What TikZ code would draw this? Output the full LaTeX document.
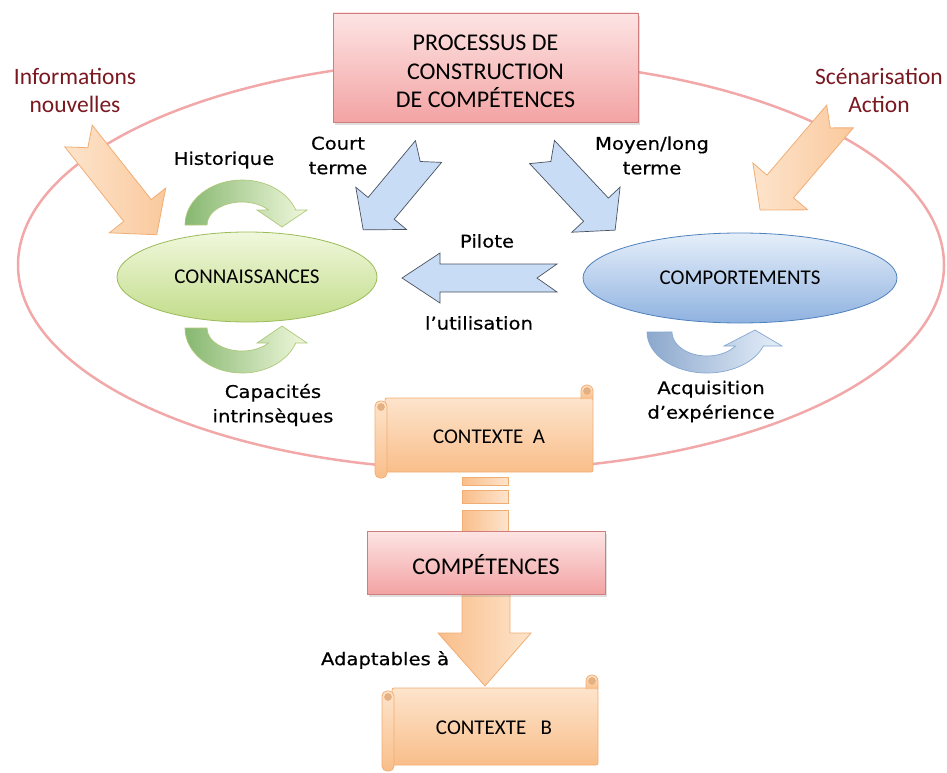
\documentclass[tikz,border=0pt]{standalone}
\usepackage{fontspec}
\setmainfont{Carlito}
\newfontfamily\comic[FakeStretch=1.12,FakeBold=0.5]{DejaVu Sans}
\usetikzlibrary{shapes.geometric,shadows,calc}
\definecolor{darkred}{RGB}{122,24,32}
\definecolor{ellline}{HTML}{F2A8A8}
\definecolor{pinkT}{HTML}{FDE4E4}
\definecolor{pinkB}{HTML}{F3A3A3}
\definecolor{pinkD}{HTML}{CF7D7D}
\definecolor{grT}{HTML}{F0F8DC}
\definecolor{grB}{HTML}{C2DC8A}
\definecolor{grD}{HTML}{9BBB59}
\definecolor{blT}{HTML}{E6EFFA}
\definecolor{blB}{HTML}{8FB2E0}
\definecolor{blD}{HTML}{4F81BD}
\definecolor{orT}{HTML}{FDE4CC}
\definecolor{orB}{HTML}{F9BE8A}
\definecolor{orM}{HTML}{FAC99D}
\definecolor{orD}{HTML}{F2AD72}
\definecolor{arrBl}{HTML}{C9DCF5}
\definecolor{arrBd}{HTML}{4A5260}
\tikzset{
  pics/notched/.style n args={6}{code={
    \path[#6] (0,-#2) -- ({#1-#4},-#2) -- ({#1-#4},-#3) -- (#1,0) -- ({#1-#4},#3) -- ({#1-#4},#2) -- (0,#2) -- (#5,0) -- cycle;
  }},
  pics/scrollshape/.style 2 args={code={
    \path[scrollfill, rounded corners=2] (0,0) rectangle (#1,#2);
    \path[scrollfill] (#1-12,1) -- (#1-12,-7) arc[start angle=180,end angle=360,radius=6] -- (#1,1);
    \path[scrollcurl] (#1-6,-7) circle[radius=3.5];
    \path[scrollfill, rounded corners=5] (-10,3) rectangle (2,#2+6);
    \path[scrollcurl] (-4,9) circle[radius=3.5];
  }},
}
\begin{document}
\begin{tikzpicture}[x=1pt,y=-1pt,
  bigell/.style={draw=ellline, line width=2.5pt},
  pinkbox/.style={rectangle, draw=pinkD, line width=0.8pt, top color=pinkT, bottom color=pinkB,
    drop shadow={shadow xshift=2pt, shadow yshift=-3pt, opacity=0.25}},
  greenell/.style={ellipse, draw=grD, line width=0.8pt, top color=grT, bottom color=grB, inner sep=0pt},
  blueell/.style={ellipse, draw=blD, line width=0.8pt, top color=blT, bottom color=blB, inner sep=0pt},
  nodetxt/.style={font=\fontsize{21}{25}\selectfont, text=black},
  bigtxt/.style={font=\fontsize{24}{28.5}\selectfont, text=black, align=center},
  lbl/.style={font=\comic\fontsize{17.5}{24.5}\selectfont, text=black, align=center, inner sep=0pt},
  redlbl/.style={font=\fontsize{23.5}{28}\selectfont, text=darkred, align=center, inner sep=0pt},
  bluearr/.style={draw=arrBd, line width=0.7pt, fill=arrBl},
  orangearr/.style={draw=orD, line width=0.8pt, left color=orT, right color=orM},
  greenarc/.style={draw=grD!80!white, line width=0.7pt, left color=green!25!gray!60!grB, right color=grT},
  bluearc/.style={draw=blD!70!white, line width=0.7pt, left color=blB!80!gray, right color=blT},
  scrollfill/.style={draw=orD, line width=0.8pt, top color=orT, bottom color=orB},
  scrollcurl/.style={draw=orD, line width=0.6pt, fill=orB!80!gray},
  pillar/.style={draw=orD, line width=0.8pt, left color=orB, right color=orT},
]
\useasboundingbox (0,0) rectangle (947,773);

% big ellipse
\draw[bigell] (481,265) ellipse [x radius=463, y radius=205];

% top box
\node[pinkbox, minimum width=305pt, minimum height=109pt] (proc) at (485.5,67.5) {};
\node[bigtxt] (proctxt) at (485.5,71.5) {PROCESSUS DE\\CONSTRUCTION\\DE COMPÉTENCES};

% outside labels
\node[redlbl] (info) at (75,90) {Informations\\nouvelles};
\node[redlbl] (scen) at (879,90) {Scénarisation\\Action};

% orange arrows
\pic (infoarr) [rotate=-51.6] at (78.5,136) {notched={126}{17.5}{36}{31}{15}{orangearr}};
\pic (scenarr) [rotate=-130.5] at (840,116.5) {notched={123}{17.5}{36}{31}{15}{orangearr}};

% blue arrows
\pic (courtarr) [rotate=-129.8] at (428.5,151.5) {notched={102}{17}{33}{28}{13}{bluearr}};
\pic (moyenarr) [rotate=-46.9] at (542,152) {notched={107}{17}{33}{28}{13}{bluearr}};
\pic (pilotarr) [rotate=180] at (557,278) {notched={155}{14}{25}{38}{20}{bluearr}};

\node[lbl] (court) at (338,155.5) {Court\\terme};
\node[lbl] (moyen) at (652,155.5) {Moyen/long\\terme};
\node[lbl] (pilote) at (487,241) {Pilote};
\node[lbl] (util) at (479,323) {l’utilisation};

% ellipses
\node[greenell, minimum width=260pt, minimum height=90pt] (conn) at (247,277) {};
\node[nodetxt] (conntxt) at (conn.center) {CONNAISSANCES};
\node[blueell, minimum width=314pt, minimum height=90pt] (comport) at (740,278) {};
\node[nodetxt] (comporttxt) at (comport.center) {COMPORTEMENTS};

% green curved arrows
\path[greenarc] (185,225) arc[start angle=180, end angle=340.5, x radius=57, y radius=45]
  -- (307,210) -- (282,227) -- (257,210) -- (268.5,210)
  arc[start angle=319.3, end angle=180, x radius=35, y radius=23] -- cycle;
\path[greenarc] (185,328) arc[start angle=180, end angle=19.5, x radius=57, y radius=45]
  -- (307,343) -- (282,326) -- (257,343) -- (268.5,343)
  arc[start angle=40.7, end angle=180, x radius=35, y radius=23] -- cycle;
% blue curved arrow
\path[bluearc] (647,332) arc[start angle=180, end angle=20, x radius=60, y radius=41]
  -- (782,346) -- (755,330) -- (724,346) -- (735.4,346)
  arc[start angle=35.7, end angle=180, x radius=35, y radius=24] -- cycle;

\node[lbl] (hist) at (224,160) {Historique};
\node[lbl] (capa) at (273,405) {Capacités\\intrinsèques};
\node[lbl] (acq) at (711,401.5) {Acquisition\\d’expérience};

% pillar blocks
\path[pillar] (462,477) rectangle (508,485);
\path[pillar] (462,490) rectangle (508,503);
\path[pillar] (462,510) rectangle (508,531);

% contexte A scroll
\pic (scrA) at (385,398) {scrollshape={208}{74}};
\node[nodetxt] (ctxA) at (489,437) {CONTEXTE\ \ A};

% down arrow to contexte B
\coordinate (compS) at (486,594);
\path[pillar] ($(compS)+(-24,0)$) -- ++(0,39) -- ++(-24,0) -- ($(compS)+(-1,92)$)
  -- ($(compS)+(45,39)$) -- ++(-21,0) -- ($(compS)+(24,0)$) -- cycle;
\node[pinkbox, minimum width=238pt, minimum height=63pt] (comp) at (486,562.5) {};
\node[bigtxt] (comptxt) at (486,565) {COMPÉTENCES};

\node[lbl] (adapt) at (385,660) {Adaptables à};

% contexte B scroll
\pic (scrB) at (392,688) {scrollshape={206}{77}};
\node[nodetxt] (ctxB) at (494,728) {CONTEXTE\ \ \ B};
\end{tikzpicture}
\end{document}
